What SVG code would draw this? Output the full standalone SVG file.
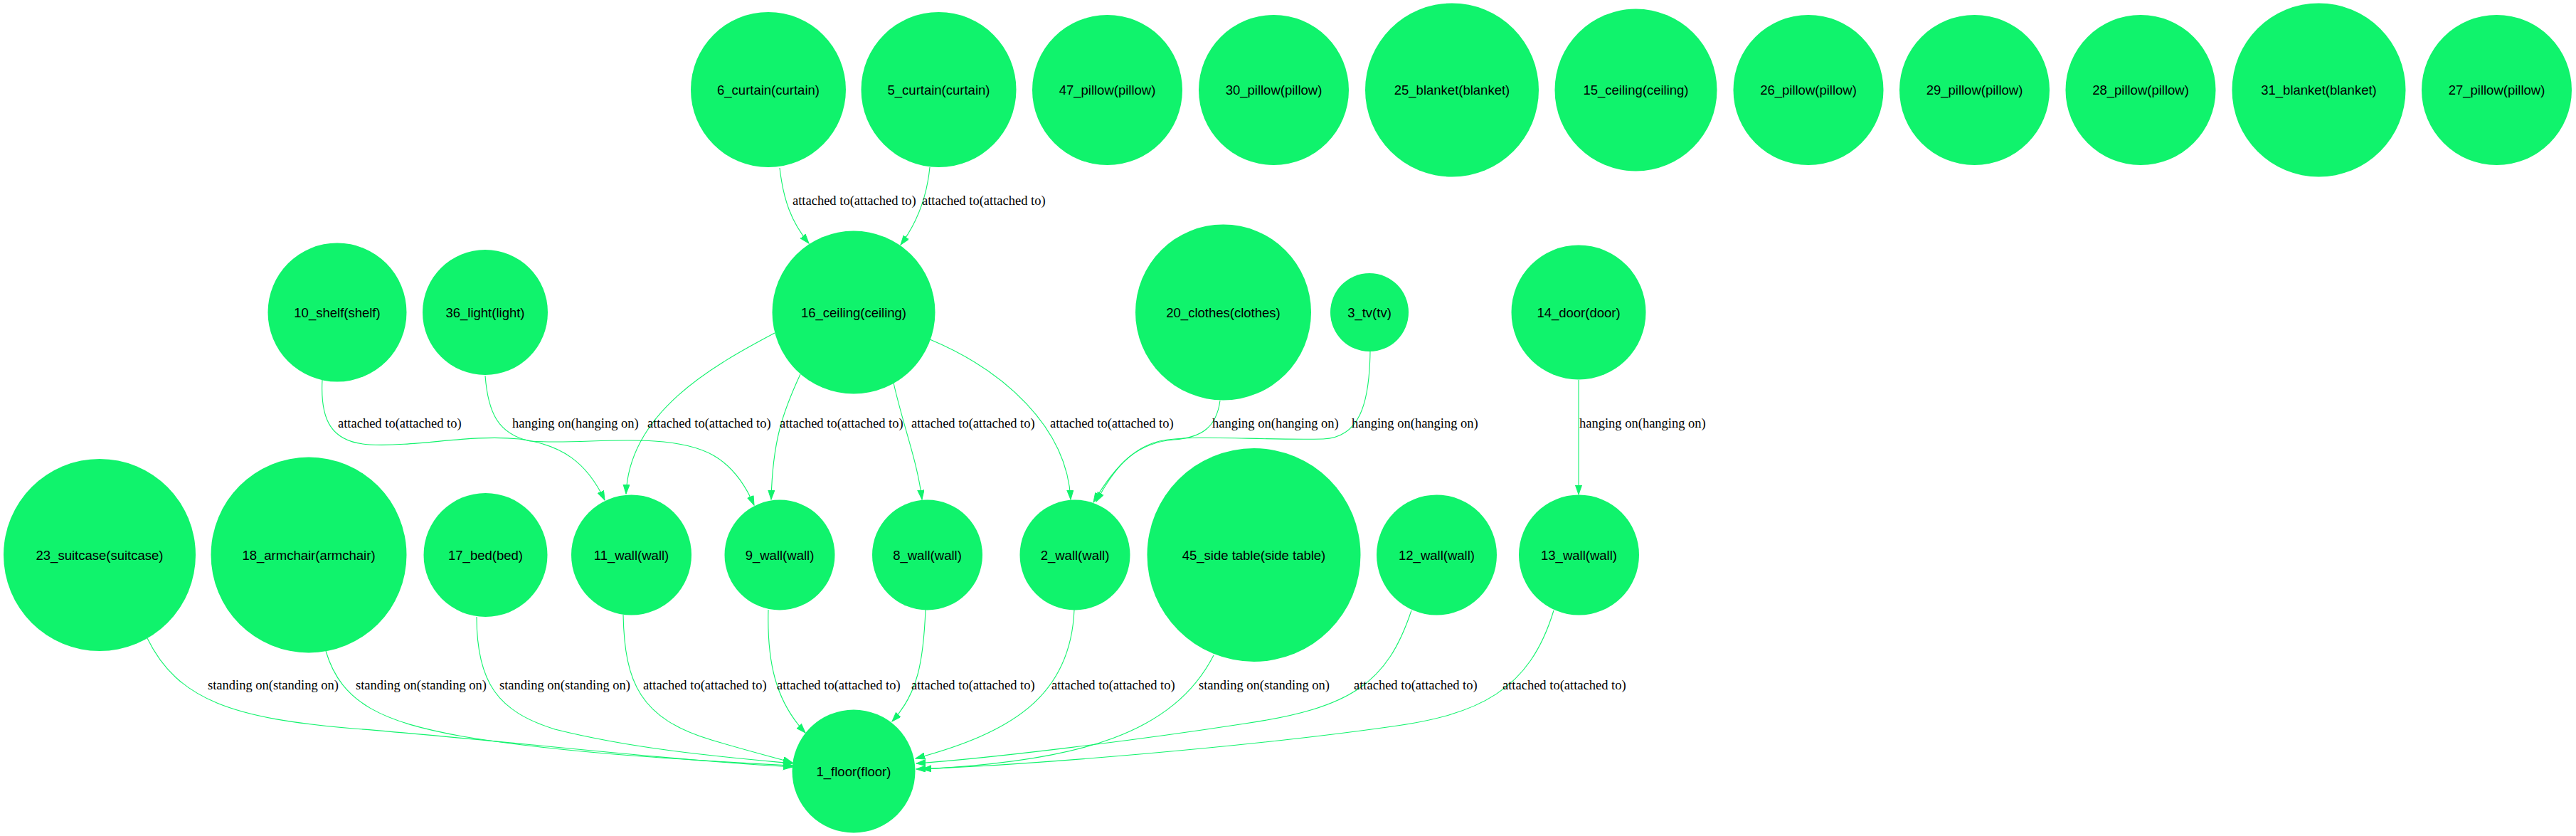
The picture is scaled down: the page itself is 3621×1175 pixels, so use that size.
<svg xmlns="http://www.w3.org/2000/svg" width="3621" height="1175" viewBox="0 0 3621 1175">
<style>
.n{fill:#10f36c;stroke:none}
.t{font-family:"Liberation Sans",Arial,sans-serif;font-size:18.5px;fill:#000;text-anchor:middle}
.e{fill:none;stroke:#10f36c;stroke-width:1.1;marker-end:url(#ah)}
.l{font-family:"Liberation Serif","Times New Roman",serif;font-size:18.5px;fill:#000}
</style>
<defs>
<marker id="ah" markerUnits="userSpaceOnUse" markerWidth="14" markerHeight="10" refX="13.2" refY="4.6" orient="auto" viewBox="0 0 14 10">
<path d="M0,0 L13.2,4.6 L0,9.2 z" fill="#10f36c" stroke="#10f36c" stroke-width="1"/>
</marker>
</defs>
<rect width="3621" height="1175" fill="#fff"/>
<g id="connectors">
<path class="e" d="M1096,236 C1101,280 1112,312 1137,342"/>
<text class="l" x="1114" y="288">attached to(attached to)</text>
<path class="e" d="M1307,235 C1303,275 1290,312 1266,344"/>
<text class="l" x="1296" y="288">attached to(attached to)</text>
<path class="e" d="M1089,468 C1000,515 885,580 880,694"/>
<text class="l" x="910" y="601">attached to(attached to)</text>
<path class="e" d="M1125,526 C1100,580 1086,620 1084,702"/>
<text class="l" x="1096" y="601">attached to(attached to)</text>
<path class="e" d="M1256,538 C1270,600 1290,650 1296,702"/>
<text class="l" x="1281" y="601">attached to(attached to)</text>
<path class="e" d="M1307,477 C1410,520 1500,600 1505,702"/>
<text class="l" x="1476" y="601">attached to(attached to)</text>
<path class="e" d="M453,534 C450,590 465,622 520,625 C590,628 660,610 730,617 C790,625 825,650 850,703"/>
<text class="l" x="475" y="601">attached to(attached to)</text>
<path class="e" d="M682,528 C686,580 700,610 745,620 C800,624 860,616 920,620 C985,624 1030,640 1060,710"/>
<text class="l" x="720" y="601">hanging on(hanging on)</text>
<path class="e" d="M1715,563 C1710,600 1690,615 1650,618 C1600,622 1570,650 1537,706"/>
<text class="l" x="1704" y="601">hanging on(hanging on)</text>
<path class="e" d="M1926,494 C1925,570 1910,615 1860,617 C1760,619 1680,610 1630,620 C1590,630 1565,660 1541,705"/>
<text class="l" x="1900" y="601">hanging on(hanging on)</text>
<path class="e" d="M2219,534 L2219,695"/>
<text class="l" x="2220" y="601">hanging on(hanging on)</text>
<path class="e" d="M207,897 C250,985 330,1010 497,1024 C700,1040 900,1065 1114,1078"/>
<text class="l" x="292" y="969">standing on(standing on)</text>
<path class="e" d="M458,915 C480,990 540,1015 650,1035 C800,1060 1000,1070 1114,1076"/>
<text class="l" x="500" y="969">standing on(standing on)</text>
<path class="e" d="M670,867 C670,960 700,1000 780,1025 C900,1055 1030,1065 1114,1073"/>
<text class="l" x="702" y="969">standing on(standing on)</text>
<path class="e" d="M876,864 C878,960 900,1010 1000,1040 C1050,1055 1090,1065 1114,1072"/>
<text class="l" x="904" y="969">attached to(attached to)</text>
<path class="e" d="M1080,857 C1078,930 1090,985 1132,1030"/>
<text class="l" x="1092" y="969">attached to(attached to)</text>
<path class="e" d="M1301,857 C1298,930 1290,975 1254,1014"/>
<text class="l" x="1281" y="969">attached to(attached to)</text>
<path class="e" d="M1510,857 C1505,980 1420,1030 1287,1066"/>
<text class="l" x="1478" y="969">attached to(attached to)</text>
<path class="e" d="M1706,921 C1650,1030 1520,1070 1296,1081"/>
<text class="l" x="1685" y="969">standing on(standing on)</text>
<path class="e" d="M1984,858 C1950,960 1900,995 1750,1017 C1600,1040 1400,1065 1288,1073"/>
<text class="l" x="1903" y="969">attached to(attached to)</text>
<path class="e" d="M2184,858 C2150,970 2080,1005 1950,1022 C1750,1050 1450,1075 1288,1081"/>
<text class="l" x="2112" y="969">attached to(attached to)</text>
</g>
<g id="n6"><circle class="n" cx="1080" cy="126" r="109"/><text class="t" x="1080" y="132.5">6_curtain(curtain)</text></g>
<g id="n5"><circle class="n" cx="1319.5" cy="126" r="109"/><text class="t" x="1319.5" y="132.5">5_curtain(curtain)</text></g>
<g id="n47"><circle class="n" cx="1556.5" cy="126.5" r="105.5"/><text class="t" x="1556.5" y="132.5">47_pillow(pillow)</text></g>
<g id="n30"><circle class="n" cx="1790.5" cy="126.5" r="105.5"/><text class="t" x="1790.5" y="132.5">30_pillow(pillow)</text></g>
<g id="n25"><circle class="n" cx="2041" cy="126.5" r="122"/><text class="t" x="2041" y="132.5">25_blanket(blanket)</text></g>
<g id="n15"><circle class="n" cx="2299.5" cy="126.5" r="114"/><text class="t" x="2299.5" y="132.5">15_ceiling(ceiling)</text></g>
<g id="n26"><circle class="n" cx="2542" cy="126.5" r="105.5"/><text class="t" x="2542" y="132.5">26_pillow(pillow)</text></g>
<g id="n29"><circle class="n" cx="2775.5" cy="126.5" r="105.5"/><text class="t" x="2775.5" y="132.5">29_pillow(pillow)</text></g>
<g id="n28"><circle class="n" cx="3009" cy="126.5" r="105.5"/><text class="t" x="3009" y="132.5">28_pillow(pillow)</text></g>
<g id="n31"><circle class="n" cx="3259.5" cy="126.5" r="122"/><text class="t" x="3259.5" y="132.5">31_blanket(blanket)</text></g>
<g id="n27"><circle class="n" cx="3509.5" cy="126.5" r="105.5"/><text class="t" x="3509.5" y="132.5">27_pillow(pillow)</text></g>
<g id="n10"><circle class="n" cx="474" cy="439" r="97.5"/><text class="t" x="474" y="445.5">10_shelf(shelf)</text></g>
<g id="n36"><circle class="n" cx="682" cy="439" r="88"/><text class="t" x="682" y="445.5">36_light(light)</text></g>
<g id="n16"><circle class="n" cx="1200" cy="439" r="114.5"/><text class="t" x="1200" y="445.5">16_ceiling(ceiling)</text></g>
<g id="n20"><circle class="n" cx="1719.5" cy="439" r="123.5"/><text class="t" x="1719.5" y="445.5">20_clothes(clothes)</text></g>
<g id="n3"><circle class="n" cx="1925" cy="439" r="55"/><text class="t" x="1925" y="445.5">3_tv(tv)</text></g>
<g id="n14"><circle class="n" cx="2219" cy="439" r="94.5"/><text class="t" x="2219" y="445.5">14_door(door)</text></g>
<g id="n23"><circle class="n" cx="140" cy="780" r="135"/><text class="t" x="140" y="786.5">23_suitcase(suitcase)</text></g>
<g id="n18"><circle class="n" cx="434" cy="780" r="137.5"/><text class="t" x="434" y="786.5">18_armchair(armchair)</text></g>
<g id="n17"><circle class="n" cx="682.5" cy="780" r="87"/><text class="t" x="682.5" y="786.5">17_bed(bed)</text></g>
<g id="n11"><circle class="n" cx="887.5" cy="780" r="84.5"/><text class="t" x="887.5" y="786.5">11_wall(wall)</text></g>
<g id="n9"><circle class="n" cx="1096" cy="780" r="77.5"/><text class="t" x="1096" y="786.5">9_wall(wall)</text></g>
<g id="n8"><circle class="n" cx="1303.5" cy="780" r="77.5"/><text class="t" x="1303.5" y="786.5">8_wall(wall)</text></g>
<g id="n2"><circle class="n" cx="1511" cy="780" r="77.5"/><text class="t" x="1511" y="786.5">2_wall(wall)</text></g>
<g id="n45"><circle class="n" cx="1762.5" cy="780" r="150"/><text class="t" x="1762.5" y="786.5">45_side table(side table)</text></g>
<g id="n12"><circle class="n" cx="2019.5" cy="780" r="84.5"/><text class="t" x="2019.5" y="786.5">12_wall(wall)</text></g>
<g id="n13"><circle class="n" cx="2219.5" cy="780" r="84.5"/><text class="t" x="2219.5" y="786.5">13_wall(wall)</text></g>
<g id="n1"><circle class="n" cx="1200" cy="1084" r="86.5"/><text class="t" x="1200" y="1090.5">1_floor(floor)</text></g>
</svg>
